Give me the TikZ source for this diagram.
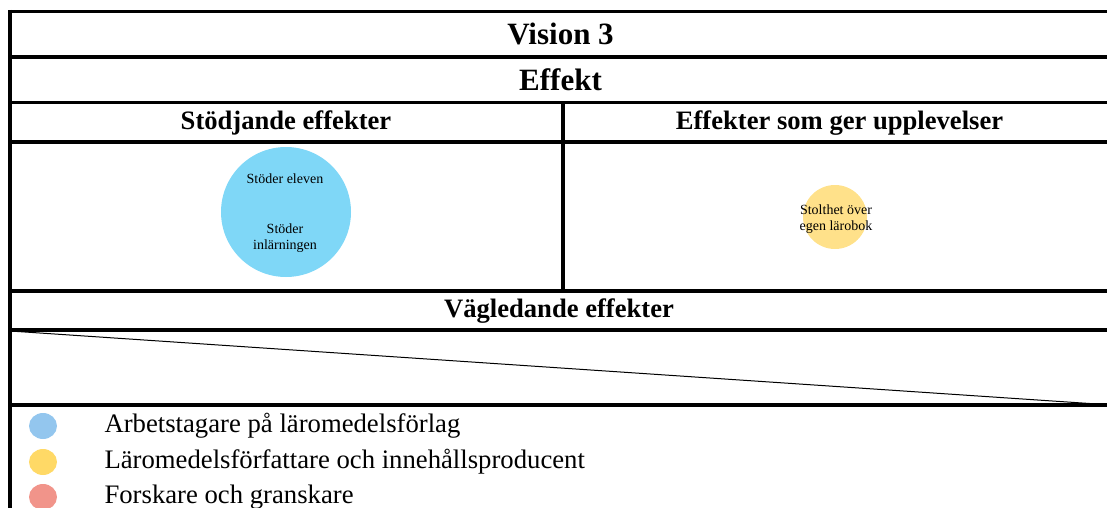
\documentclass[tikz,border=0pt]{standalone}
\usepackage{fontspec}
\setmainfont{Liberation Serif}
\definecolor{bubbleblue}{HTML}{7FD7F7}
\definecolor{bubbleyellow}{HTML}{FFE18A}
\definecolor{legblue}{HTML}{93C6EE}
\definecolor{legyellow}{HTML}{FFD966}
\definecolor{legred}{HTML}{F1948A}
\begin{document}
\begin{tikzpicture}[x=1pt,y=-1pt,
	rule/.style={line width=3.5pt},
	head/.style={font=\fontsize{31}{35}\selectfont\bfseries},
	subhead/.style={font=\fontsize{26.6}{30}\selectfont\bfseries},
	bubble/.style={circle,inner sep=0pt},
	bubbletext/.style={font=\fontsize{14}{16}\selectfont,align=center},
	legendtext/.style={font=\fontsize{26.7}{30}\selectfont,anchor=west}]
	\useasboundingbox (0,0) rectangle (1107,508);
	\clip (0,0) rectangle (1107,508);

	% table rules
	\draw[rule] (10,10) -- (10,508);
	\foreach \y in {11.5,57,102.5,142,291,330,405}
		\draw[rule] (8.25,\y) -- (1112,\y);
	\draw[rule] (563,102.5) -- (563,291);
	\draw[line width=1pt] (10,331) -- (1112,405);

	% headings
	\node[head] (vision) at (560.5,34) {Vision 3};
	\node[head] (effekt) at (560.5,80) {Effekt};
	\node[subhead] (stodjande) at (286,123) {Stödjande effekter};
	\node[subhead] (upplevelser) at (839.5,123) {Effekter som ger upplevelser};
	\node[subhead] (vagledande) at (559,311) {Vägledande effekter};

	% bubbles
	\node[bubble,fill=bubbleblue,minimum size=130pt] (stoder) at (286,212) {};
	\node[bubbletext] (eleven) at (285,179) {Stöder eleven};
	\node[bubbletext] (inlarning) at (285,238) {Stöder\\inlärningen};

	\node[bubble,fill=bubbleyellow,minimum size=64pt] (stolthet) at (835,217) {};
	\node[bubbletext] (larobok) at (836,219) {Stolthet över\\egen lärobok};

	% legend
	\foreach \c/\y/\t/\n in {legblue/426/Arbetstagare på läromedelsförlag/arbetstagare,
		legyellow/462/Läromedelsförfattare och innehållsproducent/forfattare,
		legred/497/Forskare och granskare/forskare} {
		\fill[\c] (43,\y) ellipse[x radius=14,y radius=13];
		\node[legendtext] (\n) at (101,\y) {\t};
	}
\end{tikzpicture}
\end{document}
